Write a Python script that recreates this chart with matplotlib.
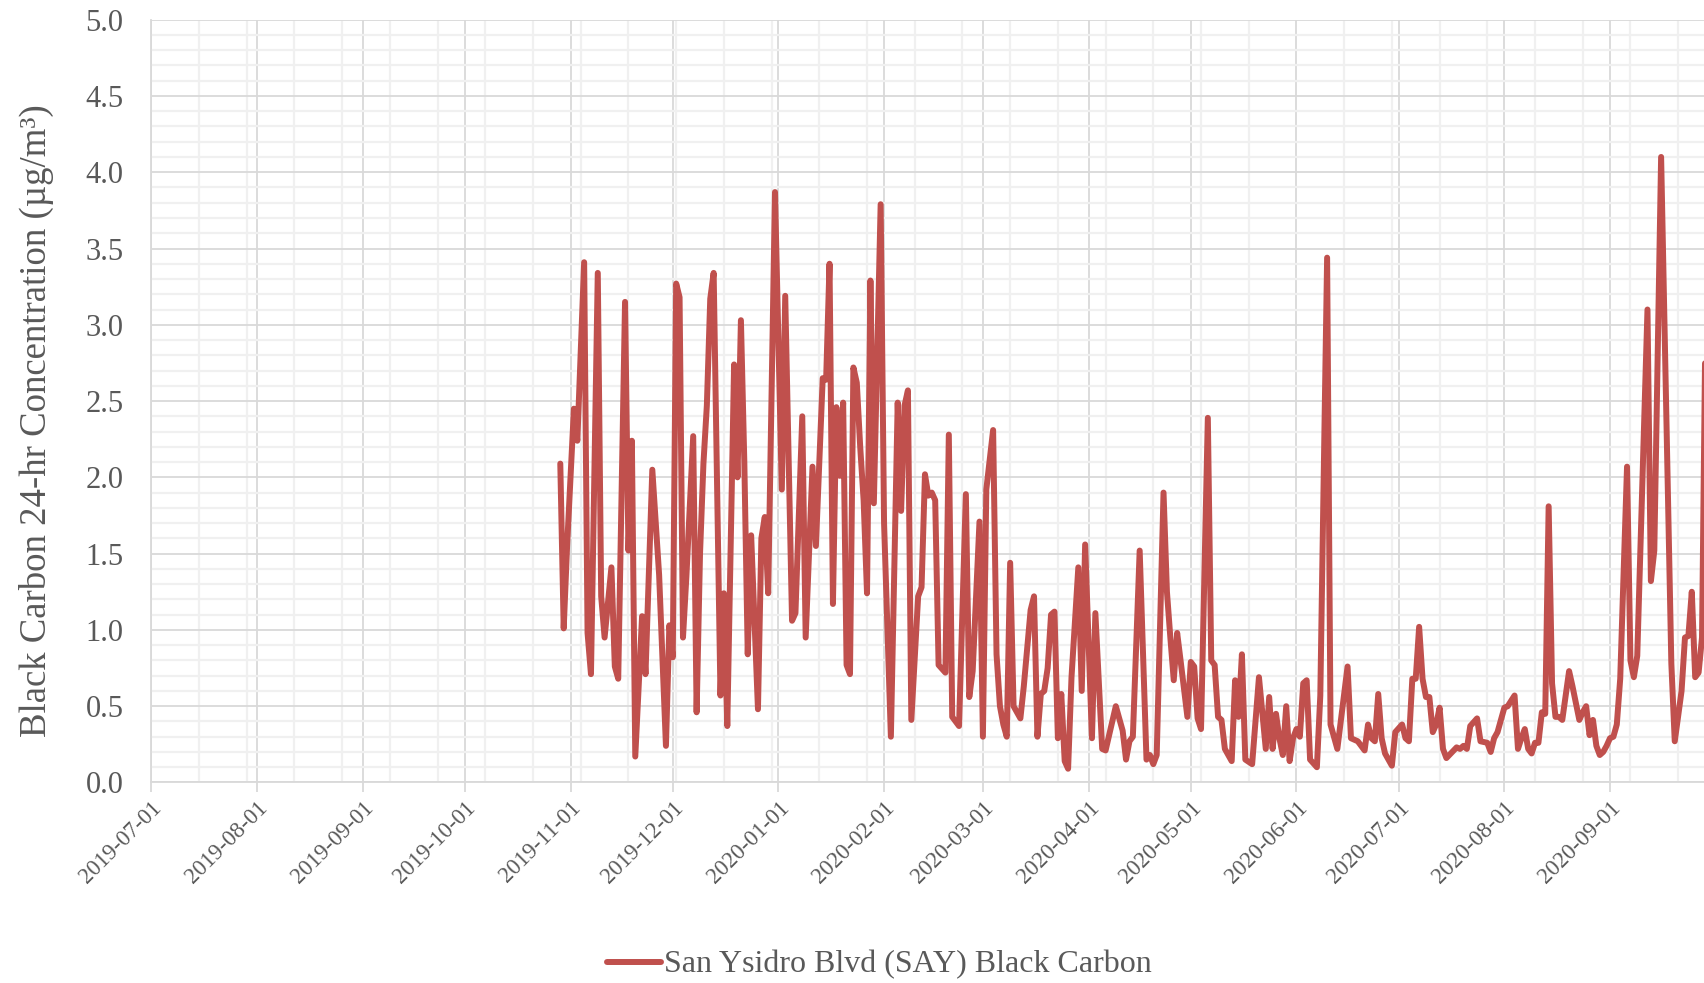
import pandas as pd
import matplotlib.pyplot as plt
import matplotlib.dates as mdates
from matplotlib.ticker import MultipleLocator, FormatStrFormatter, FixedLocator

# --- data (daily 24-hr black carbon, ug/m3) ---
dates = [
    "2019-10-29", "2019-10-30", "2019-10-31",
    "2019-11-02", "2019-11-03", "2019-11-05", "2019-11-06", "2019-11-07", "2019-11-09", "2019-11-10",
    "2019-11-11", "2019-11-13", "2019-11-14", "2019-11-15", "2019-11-17", "2019-11-18", "2019-11-19",
    "2019-11-20", "2019-11-22", "2019-11-23", "2019-11-25", "2019-11-27", "2019-11-29", "2019-11-30",
    "2019-12-01", "2019-12-02", "2019-12-03", "2019-12-04", "2019-12-05", "2019-12-07", "2019-12-08",
    "2019-12-09", "2019-12-10", "2019-12-11", "2019-12-12", "2019-12-13", "2019-12-15", "2019-12-16",
    "2019-12-17", "2019-12-19", "2019-12-20", "2019-12-21", "2019-12-22", "2019-12-23", "2019-12-24",
    "2019-12-26", "2019-12-27", "2019-12-28", "2019-12-29", "2019-12-31",
    "2020-01-02", "2020-01-03", "2020-01-05", "2020-01-06", "2020-01-08", "2020-01-09", "2020-01-11",
    "2020-01-12", "2020-01-14", "2020-01-15", "2020-01-16", "2020-01-17", "2020-01-18", "2020-01-19",
    "2020-01-20", "2020-01-21", "2020-01-22", "2020-01-23", "2020-01-24", "2020-01-25", "2020-01-26",
    "2020-01-27", "2020-01-28", "2020-01-29", "2020-01-31",
    "2020-02-01", "2020-02-03", "2020-02-05", "2020-02-06", "2020-02-07", "2020-02-08", "2020-02-09",
    "2020-02-11", "2020-02-12", "2020-02-13", "2020-02-14", "2020-02-15", "2020-02-16", "2020-02-17",
    "2020-02-19", "2020-02-20", "2020-02-21", "2020-02-23", "2020-02-25", "2020-02-26", "2020-02-27",
    "2020-02-29",
    "2020-03-01", "2020-03-02", "2020-03-04", "2020-03-05", "2020-03-06", "2020-03-07", "2020-03-08",
    "2020-03-09", "2020-03-10", "2020-03-12", "2020-03-13", "2020-03-15", "2020-03-16", "2020-03-17",
    "2020-03-18", "2020-03-19", "2020-03-20", "2020-03-21", "2020-03-22", "2020-03-23", "2020-03-24",
    "2020-03-25", "2020-03-26", "2020-03-27", "2020-03-29", "2020-03-30", "2020-03-31",
    "2020-04-02", "2020-04-03", "2020-04-05", "2020-04-06", "2020-04-09", "2020-04-11", "2020-04-12",
    "2020-04-13", "2020-04-14", "2020-04-16", "2020-04-18", "2020-04-19", "2020-04-20", "2020-04-21",
    "2020-04-23", "2020-04-24", "2020-04-25", "2020-04-26", "2020-04-27", "2020-04-28", "2020-04-30",
    "2020-05-01", "2020-05-02", "2020-05-03", "2020-05-04", "2020-05-06", "2020-05-07", "2020-05-08",
    "2020-05-09", "2020-05-10", "2020-05-11", "2020-05-12", "2020-05-13", "2020-05-14", "2020-05-15",
    "2020-05-16", "2020-05-17", "2020-05-19", "2020-05-21", "2020-05-23", "2020-05-24", "2020-05-25",
    "2020-05-26", "2020-05-27", "2020-05-28", "2020-05-29", "2020-05-30", "2020-05-31",
    "2020-06-01", "2020-06-02", "2020-06-03", "2020-06-04", "2020-06-05", "2020-06-07", "2020-06-08",
    "2020-06-10", "2020-06-11", "2020-06-13", "2020-06-16", "2020-06-17", "2020-06-19", "2020-06-20",
    "2020-06-21", "2020-06-22", "2020-06-23", "2020-06-24", "2020-06-25", "2020-06-26", "2020-06-27",
    "2020-06-29", "2020-06-30",
    "2020-07-02", "2020-07-03", "2020-07-04", "2020-07-05", "2020-07-06", "2020-07-07", "2020-07-08",
    "2020-07-09", "2020-07-10", "2020-07-11", "2020-07-12", "2020-07-13", "2020-07-14", "2020-07-15",
    "2020-07-18", "2020-07-19", "2020-07-20", "2020-07-21", "2020-07-22", "2020-07-24", "2020-07-25",
    "2020-07-27", "2020-07-28", "2020-07-29", "2020-07-30", "2020-07-31",
    "2020-08-01", "2020-08-02", "2020-08-04", "2020-08-05", "2020-08-06", "2020-08-07", "2020-08-08",
    "2020-08-09", "2020-08-10", "2020-08-11", "2020-08-12", "2020-08-13", "2020-08-14", "2020-08-15",
    "2020-08-16", "2020-08-17", "2020-08-18", "2020-08-20", "2020-08-21", "2020-08-23", "2020-08-24",
    "2020-08-25", "2020-08-26", "2020-08-27", "2020-08-28", "2020-08-29", "2020-08-30", "2020-08-31",
    "2020-09-01", "2020-09-02", "2020-09-03", "2020-09-04", "2020-09-06", "2020-09-07", "2020-09-08",
    "2020-09-09", "2020-09-12", "2020-09-13", "2020-09-14", "2020-09-16", "2020-09-19", "2020-09-20",
    "2020-09-22", "2020-09-23", "2020-09-24", "2020-09-25", "2020-09-26", "2020-09-27", "2020-09-28",
    "2020-09-29",
]

bc_values = [
    2.09, 1.01, 1.55,
    2.45, 2.24, 3.41, 0.98, 0.71, 3.34, 1.22,
    0.95, 1.41, 0.76, 0.68, 3.15, 1.52, 2.24,
    0.17, 1.09, 0.71, 2.05, 1.36, 0.24, 1.03,
    0.82, 3.27, 3.18, 0.95, 1.35, 2.27, 0.46,
    1.50, 2.09, 2.47, 3.17, 3.34, 0.57, 1.24,
    0.37, 2.74, 2.00, 3.03, 2.10, 0.84, 1.62,
    0.48, 1.60, 1.74, 1.24, 3.87,
    1.92, 3.19, 1.06, 1.11, 2.40, 0.95, 2.07,
    1.55, 2.65, 2.64, 3.40, 1.17, 2.46, 2.01,
    2.49, 0.77, 0.71, 2.72, 2.62, 2.20, 1.85,
    1.24, 3.29, 1.83, 3.79,
    1.70, 0.30, 2.49, 1.78, 2.47, 2.57, 0.41,
    1.22, 1.28, 2.02, 1.88, 1.90, 1.85, 0.77,
    0.72, 2.28, 0.43, 0.37, 1.89, 0.56, 0.73,
    1.71,
    0.30, 1.92, 2.31, 0.84, 0.50, 0.38, 0.30,
    1.44, 0.50, 0.42, 0.63, 1.13, 1.22, 0.30,
    0.58, 0.60, 0.75, 1.10, 1.12, 0.29, 0.58,
    0.14, 0.09, 0.69, 1.41, 0.60, 1.56,
    0.29, 1.11, 0.22, 0.21, 0.50, 0.34, 0.15,
    0.27, 0.30, 1.52, 0.15, 0.18, 0.12, 0.18,
    1.90, 1.25, 0.95, 0.67, 0.98, 0.80, 0.43,
    0.79, 0.76, 0.42, 0.35, 2.39, 0.80, 0.77,
    0.43, 0.41, 0.22, 0.18, 0.14, 0.67, 0.43,
    0.84, 0.15, 0.12, 0.69, 0.22, 0.56, 0.22,
    0.45, 0.29, 0.18, 0.50, 0.14, 0.29,
    0.35, 0.30, 0.65, 0.67, 0.15, 0.10, 0.57,
    3.44, 0.38, 0.22, 0.76, 0.29, 0.27, 0.24,
    0.21, 0.38, 0.29, 0.27, 0.58, 0.29, 0.19,
    0.11, 0.33,
    0.38, 0.29, 0.27, 0.68, 0.68, 1.02, 0.68,
    0.56, 0.56, 0.33, 0.38, 0.49, 0.22, 0.16,
    0.23, 0.22, 0.24, 0.22, 0.37, 0.42, 0.27,
    0.26, 0.20, 0.29, 0.33, 0.41,
    0.49, 0.50, 0.57, 0.22, 0.29, 0.35, 0.22,
    0.19, 0.26, 0.26, 0.46, 0.45, 1.81, 0.65,
    0.43, 0.43, 0.41, 0.73, 0.63, 0.41, 0.46,
    0.50, 0.31, 0.41, 0.24, 0.18, 0.20, 0.24,
    0.29, 0.30, 0.38, 0.68, 2.07, 0.80, 0.69,
    0.83, 3.10, 1.32, 1.52, 4.10, 0.78, 0.27,
    0.60, 0.95, 0.96, 1.25, 0.69, 0.72, 0.95,
    3.00,
]

series_label = "San Ysidro Blvd (SAY) Black Carbon"
y_label = "Black Carbon 24-hr Concentration (µg/m³)"

LINE_RED = "#C0504D"
TEXT_GREY = "#595959"
GRID_MAJOR = "#D9D9D9"
GRID_MINOR = "#F0F0F0"

plt.rcParams['font.family'] = ['Liberation Serif', 'DejaVu Serif']

fig, ax = plt.subplots(figsize=(17.04, 9.83), dpi=100)
fig.subplots_adjust(left=0.0888, right=1.0, top=0.980, bottom=0.204)

ax.plot(pd.to_datetime(dates), bc_values, color=LINE_RED, lw=4.3,
        solid_joinstyle='round', solid_capstyle='round', label=series_label, zorder=3)

ax.set_xlim(pd.Timestamp("2019-07-01"), pd.Timestamp("2020-09-28 14:00"))
ax.set_ylim(0, 5)

ax.yaxis.set_major_locator(MultipleLocator(0.5))
ax.yaxis.set_minor_locator(MultipleLocator(0.1))
ax.yaxis.set_major_formatter(FormatStrFormatter('%.1f'))

ax.xaxis.set_major_locator(mdates.MonthLocator())
ax.xaxis.set_major_formatter(mdates.DateFormatter('%Y-%m-%d'))
# light gridlines every two weeks
two_weeks = pd.date_range("2019-07-15", "2020-09-28", freq="14D")
ax.xaxis.set_minor_locator(FixedLocator(mdates.date2num(two_weeks)))

ax.set_axisbelow(True)
ax.grid(which='minor', color=GRID_MINOR, lw=1.6)
ax.grid(which='major', color=GRID_MAJOR, lw=1.3)

ax.tick_params(axis='x', which='major', length=7, width=1.3, color=GRID_MAJOR,
               labelsize=16.5, labelcolor=TEXT_GREY, pad=4)
ax.tick_params(axis='x', which='minor', length=0)
ax.tick_params(axis='y', which='both', length=0, labelsize=22, labelcolor=TEXT_GREY, pad=20)
plt.setp(ax.get_xticklabels(), rotation=45, ha='right', rotation_mode='anchor')

for side in ['top', 'right']:
    ax.spines[side].set_visible(False)
for side in ['left', 'bottom']:
    ax.spines[side].set_color(GRID_MAJOR)
    ax.spines[side].set_linewidth(1.3)

ax.set_ylabel(y_label, fontsize=26.5, color=TEXT_GREY)
ax.yaxis.set_label_coords(-0.0625, 0.475)

fig.legend(loc='center', bbox_to_anchor=(0.516, 0.0183), frameon=False, fontsize=23,
           handlelength=1.7, handletextpad=0.1, labelcolor=TEXT_GREY)

fig.savefig('out.png', dpi=100)
